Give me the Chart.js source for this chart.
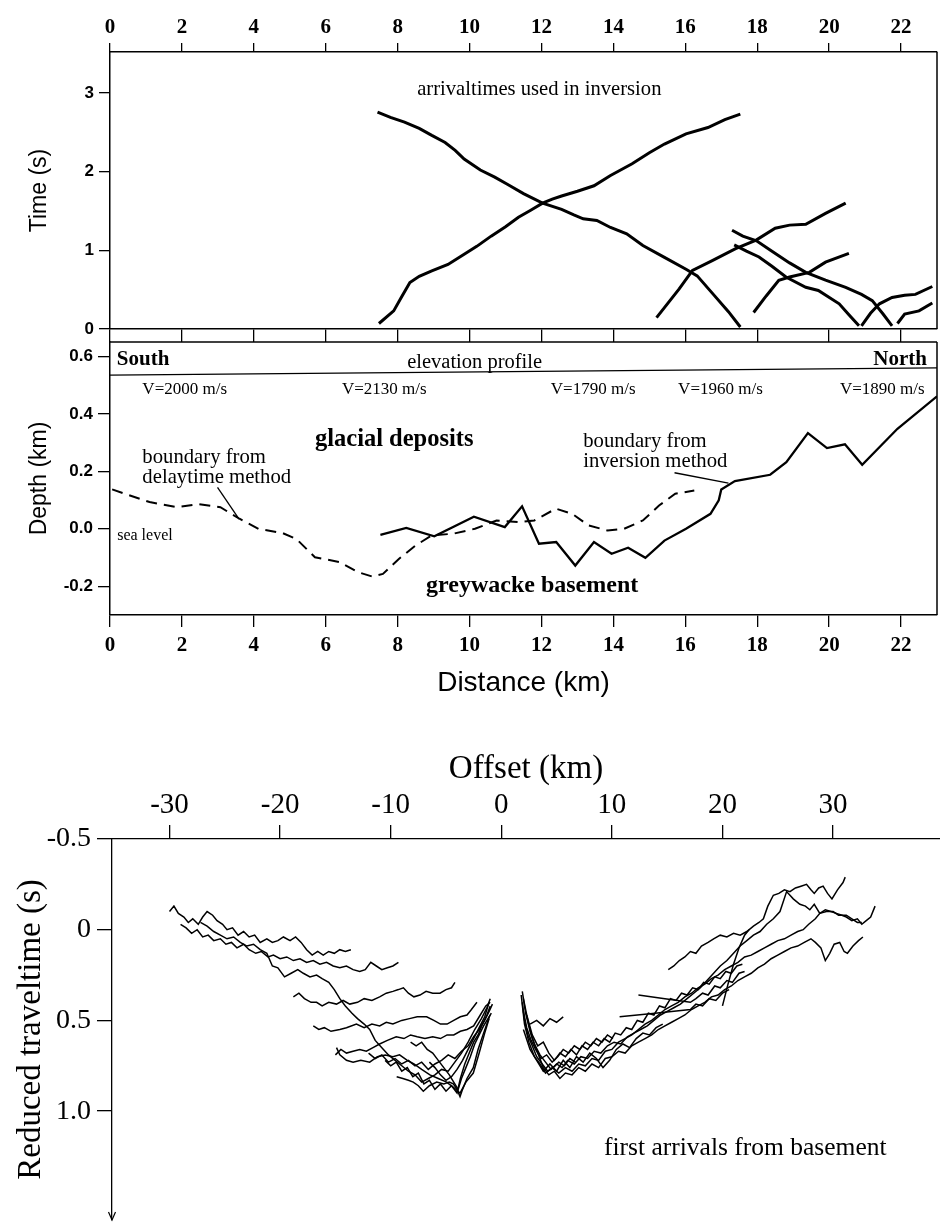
<!DOCTYPE html>
<html><head><meta charset="utf-8">
<script src="https://cdn.jsdelivr.net/npm/chart.js@4.4.1/dist/chart.umd.min.js"></script>
<style>
body{margin:0;background:#fff;width:940px;height:1226px;position:relative;overflow:hidden}
canvas{position:absolute;left:0}
</style></head><body>
<canvas id="cv1" width="940" height="342" style="top:0"></canvas>
<canvas id="cv2" width="940" height="360" style="top:340px"></canvas>
<canvas id="cv3" width="940" height="526" style="top:700px"></canvas>
<script>
// ---------- DATA ----------
const distTicks = [0,2,4,6,8,10,12,14,16,18,20,22];
const timeTicks = [0,1,2,3];
const depthTicks = [-0.2,0,0.2,0.4,0.6];
const offsetTicks = [-30,-20,-10,0,10,20,30];
const redTimeTicks = [-0.5,0,0.5,1.0];
const redTimeLabels = ['-0.5','0','0.5','1.0'];

// top panel: arrival times (distance km, time s)
const arrivalA = [[7.44,2.756],[7.8,2.69],[8.19,2.63],[8.6,2.55],[8.95,2.46],[9.32,2.37],[9.6,2.27],[9.85,2.16],[10.3,2.02],[10.7,1.93],[11.05,1.84],[11.5,1.72],[12.03,1.60],[12.56,1.52],[12.9,1.45],[13.16,1.40],[13.54,1.38],[13.92,1.29],[14.37,1.21],[14.82,1.06],[15.42,0.91],[16.02,0.76],[16.33,0.675],[16.78,0.44],[17.2,0.22],[17.53,0.025]];
const arrivalB = [[7.48,0.07],[7.89,0.23],[8.1,0.40],[8.34,0.59],[8.6,0.67],[8.95,0.74],[9.4,0.82],[9.85,0.95],[10.2,1.05],[10.6,1.18],[11.0,1.30],[11.36,1.42],[11.7,1.51],[12.03,1.60],[12.3,1.65],[12.56,1.69],[13.0,1.75],[13.46,1.82],[13.92,1.95],[14.52,2.10],[15.0,2.24],[15.42,2.35],[16.02,2.48],[16.63,2.56],[17.1,2.66],[17.53,2.73]];
const arrivalC = [[15.2,0.144],[15.83,0.51],[16.2,0.745],[16.75,0.87],[17.4,1.02],[17.97,1.13],[18.5,1.28],[18.9,1.32],[19.35,1.33],[19.9,1.47],[20.46,1.6]];
const arrivalD = [[17.3,1.255],[17.6,1.18],[17.98,1.12],[18.4,0.99],[18.9,0.84],[19.35,0.72],[19.9,0.62],[20.46,0.53],[20.9,0.44],[21.2,0.36],[21.5,0.19],[21.75,0.04]];
const arrivalE = [[17.36,1.07],[17.7,0.99],[18.05,0.915],[18.4,0.8],[18.8,0.66],[19.35,0.53],[19.7,0.49],[20.28,0.32],[20.55,0.18],[20.83,0.04]];
const arrivalF = [[17.9,0.21],[18.25,0.42],[18.6,0.62],[18.9,0.66],[19.45,0.72],[19.9,0.85],[20.55,0.96]];
const arrivalG = [[20.9,0.04],[21.15,0.2],[21.4,0.32],[21.75,0.40],[22.1,0.43],[22.4,0.44],[22.87,0.54]];
const arrivalH = [[21.9,0.07],[22.1,0.19],[22.5,0.23],[22.87,0.33]];

// middle panel: boundaries (distance km, depth km)
const delaytimeBoundary = [[0.06,0.137],[1.1,0.093],[1.87,0.075],[2.47,0.086],[3.07,0.075],[3.6,0.035],[4.13,0.0],[4.8,-0.015],[5.18,-0.035],[5.7,-0.099],[6.39,-0.116],[6.9,-0.151],[7.29,-0.166],[7.59,-0.157],[8.04,-0.104],[8.5,-0.058],[8.95,-0.023],[9.55,-0.017],[10.15,0.0],[10.75,0.029],[11.36,0.023],[11.8,0.029],[12.4,0.07],[12.86,0.052],[13.3,0.012],[13.84,-0.006],[14.3,0.0],[14.82,0.029],[15.27,0.081],[15.72,0.122],[16.25,0.133]];
const inversionBoundary = [[7.52,-0.021],[8.24,0.003],[9.02,-0.026],[10.12,0.042],[10.98,0.006],[11.46,0.078],[11.93,-0.052],[12.41,-0.046],[12.94,-0.128],[13.46,-0.046],[13.95,-0.087],[14.41,-0.066],[14.89,-0.101],[15.42,-0.041],[16.02,0.0],[16.7,0.052],[16.93,0.099],[17.0,0.137],[17.38,0.166],[18.36,0.188],[18.81,0.232],[19.41,0.333],[19.94,0.281],[20.44,0.294],[20.92,0.223],[21.9,0.348],[23.0,0.461]];
const elevationProfile = [[0,0.535],[23,0.56]];

// bottom panel: first arrivals (offset km, reduced traveltime s)
const leftTrace1 = [[-30.0,-0.10],[-29.6,-0.13],[-29.2,-0.09],[-28.7,-0.07],[-28.3,-0.04],[-27.9,-0.06],[-27.4,-0.03],[-27.0,-0.07],[-26.6,-0.10],[-26.1,-0.08],[-25.7,-0.05],[-25.2,-0.03],[-24.8,0.00],[-24.3,-0.01],[-23.8,0.03],[-23.3,0.01],[-22.8,0.04],[-22.3,0.03],[-21.8,0.07],[-21.2,0.05],[-20.7,0.07],[-20.2,0.06],[-19.7,0.04],[-19.1,0.06],[-18.6,0.04],[-18.1,0.07],[-17.6,0.11],[-17.1,0.14],[-16.6,0.12],[-16.1,0.14],[-15.6,0.12],[-15.1,0.13],[-14.6,0.11],[-14.1,0.12],[-13.6,0.11]];
const leftTrace2 = [[-29.0,-0.03],[-28.5,-0.01],[-28.0,0.02],[-27.5,0.00],[-27.0,0.04],[-26.5,0.03],[-26.0,0.06],[-25.4,0.05],[-24.9,0.08],[-24.4,0.07],[-23.9,0.10],[-23.3,0.08],[-22.8,0.11],[-22.2,0.13],[-21.7,0.12],[-21.1,0.15],[-20.6,0.14],[-20.0,0.16],[-19.4,0.15],[-18.8,0.17],[-18.2,0.16],[-17.6,0.18],[-17.0,0.17],[-16.4,0.19],[-15.8,0.18],[-15.2,0.20],[-14.6,0.21],[-14.0,0.20],[-13.4,0.22],[-12.8,0.23],[-12.3,0.22],[-11.8,0.18],[-11.3,0.20],[-10.8,0.22],[-10.3,0.21],[-9.8,0.20],[-9.3,0.18]];
const leftTrace3 = [[-27.2,-0.04],[-26.6,-0.02],[-26.0,0.01],[-25.4,0.03],[-24.8,0.05],[-24.2,0.04],[-23.6,0.07],[-23.0,0.09],[-22.4,0.08],[-21.8,0.11],[-21.2,0.13],[-20.7,0.20],[-20.2,0.21],[-19.6,0.26],[-19.0,0.24],[-18.4,0.22],[-17.9,0.24],[-17.3,0.26],[-16.7,0.25],[-16.2,0.27],[-15.6,0.29],[-15.1,0.33],[-14.6,0.38],[-14.1,0.42],[-13.5,0.46],[-13.0,0.49],[-12.4,0.52],[-11.9,0.55],[-11.4,0.61],[-10.8,0.65],[-10.2,0.69],[-9.6,0.72],[-9.0,0.75],[-8.4,0.78],[-7.8,0.80],[-7.2,0.84],[-6.6,0.82],[-6.0,0.80],[-5.4,0.77],[-4.8,0.78],[-4.2,0.73],[-3.6,0.68],[-3.0,0.62],[-2.4,0.55],[-1.8,0.49],[-1.3,0.43],[-1.0,0.38]];
const leftTrace4 = [[-18.8,0.37],[-18.3,0.35],[-17.8,0.38],[-17.2,0.40],[-16.7,0.40],[-16.2,0.42],[-15.6,0.40],[-14.9,0.41],[-14.3,0.39],[-13.7,0.41],[-13.0,0.40],[-12.4,0.38],[-11.7,0.39],[-11.0,0.37],[-10.4,0.35],[-9.8,0.34],[-9.3,0.33],[-8.85,0.32],[-8.4,0.35],[-7.9,0.37],[-7.35,0.36],[-6.8,0.34],[-6.2,0.35],[-5.54,0.35],[-5.0,0.33],[-4.5,0.32],[-4.19,0.29]];
const leftTrace5 = [[-17.0,0.53],[-16.5,0.55],[-16.0,0.54],[-15.4,0.56],[-14.6,0.55],[-14.0,0.54],[-13.1,0.52],[-12.4,0.54],[-11.7,0.52],[-11.0,0.53],[-10.4,0.51],[-9.8,0.52],[-9.0,0.50],[-8.3,0.49],[-7.6,0.48],[-6.75,0.48],[-6.1,0.50],[-5.5,0.52],[-4.9,0.52],[-4.3,0.50],[-3.7,0.48],[-3.1,0.47],[-2.7,0.44],[-2.2,0.40]];
const leftTrace6 = [[-15.0,0.69],[-14.5,0.66],[-14.0,0.68],[-13.4,0.67],[-12.8,0.66],[-12.2,0.67],[-11.6,0.65],[-11.0,0.63],[-10.3,0.61],[-9.5,0.59],[-8.8,0.60],[-8.2,0.58],[-7.6,0.59],[-6.9,0.60],[-6.2,0.59],[-5.5,0.60],[-4.9,0.58],[-4.3,0.58],[-3.7,0.56],[-3.1,0.55],[-2.5,0.53],[-1.9,0.47],[-1.4,0.42],[-1.0,0.40]];
const leftTrace7 = [[-14.9,0.65],[-14.6,0.69],[-14.0,0.72],[-13.4,0.73],[-12.7,0.72],[-11.9,0.73],[-11.2,0.70],[-10.5,0.69],[-9.8,0.70],[-9.2,0.69],[-8.5,0.72],[-7.9,0.74],[-7.2,0.77],[-6.45,0.80],[-5.7,0.82],[-4.94,0.84],[-4.3,0.87],[-3.73,0.90],[-3.2,0.84],[-2.53,0.79],[-2.0,0.68],[-1.5,0.57],[-1.1,0.49]];
const leftTrace8 = [[-9.46,0.81],[-8.9,0.82],[-8.4,0.83],[-7.96,0.84],[-7.5,0.86],[-7.05,0.89],[-6.5,0.86],[-5.84,0.84],[-5.2,0.85],[-4.7,0.84],[-4.34,0.85],[-4.0,0.88],[-3.73,0.92],[-3.5,0.88],[-3.1,0.82],[-2.53,0.76],[-2.1,0.66],[-1.6,0.57],[-1.02,0.47]];
const leftTrace9 = [[-10.5,0.72],[-10.0,0.75],[-9.5,0.73],[-9.0,0.78],[-8.5,0.76],[-8.0,0.81],[-7.5,0.79],[-7.0,0.85],[-6.5,0.83],[-6.0,0.88],[-5.5,0.85],[-5.0,0.89],[-4.5,0.86],[-4.0,0.90],[-3.7,0.82],[-3.3,0.74],[-2.9,0.68],[-2.5,0.62],[-2.1,0.58],[-1.7,0.52],[-1.3,0.47],[-1.0,0.42]];
const leftTrace10 = [[-12.0,0.68],[-11.4,0.71],[-10.8,0.69],[-10.2,0.73],[-9.6,0.71],[-9.0,0.74],[-8.4,0.72],[-7.8,0.75],[-7.2,0.73],[-6.6,0.77],[-6.0,0.74],[-5.4,0.72],[-4.8,0.69],[-4.2,0.71],[-3.6,0.67],[-3.0,0.64],[-2.5,0.59],[-2.0,0.55],[-1.5,0.50],[-1.1,0.45],[-0.8,0.41]];
const leftTrace11 = [[-8.2,0.62],[-7.7,0.64],[-7.2,0.62],[-6.7,0.66],[-6.2,0.68],[-5.7,0.72],[-5.2,0.76],[-4.7,0.80],[-4.3,0.84],[-3.9,0.88],[-3.6,0.82],[-3.2,0.76],[-2.8,0.70],[-2.4,0.63],[-2.0,0.58],[-1.6,0.53],[-1.2,0.49],[-0.9,0.46]];
const leftTrace12 = [[-6.5,0.73],[-6.0,0.76],[-5.5,0.80],[-5.0,0.83],[-4.5,0.81],[-4.0,0.77],[-3.5,0.72],[-3.0,0.66],[-2.5,0.60],[-2.0,0.54],[-1.5,0.48],[-1.1,0.40]];

const rightTrace1 = [[15.1,0.22],[15.6,0.20],[16.1,0.17],[16.6,0.15],[17.1,0.12],[17.6,0.13],[18.1,0.09],[18.7,0.07],[19.2,0.05],[19.8,0.03],[20.4,0.04],[21.0,0.02],[21.6,0.03],[22.2,0.01],[22.8,-0.02],[23.3,-0.04],[23.7,-0.06],[24.1,-0.13],[24.6,-0.19],[25.1,-0.20],[25.6,-0.22],[26.1,-0.21],[26.6,-0.23],[27.1,-0.24],[27.6,-0.25],[28.0,-0.22],[28.3,-0.20],[28.7,-0.23],[29.1,-0.24],[29.5,-0.20],[29.9,-0.17],[30.4,-0.22],[30.9,-0.26],[31.1,-0.29]];
const rightTrace2 = [[1.9,0.34],[2.2,0.46],[2.6,0.56],[3.0,0.63],[3.5,0.69],[4.0,0.73],[4.5,0.77],[5.0,0.74],[5.5,0.76],[6.0,0.72],[6.6,0.74],[7.2,0.70],[7.8,0.71],[8.4,0.67],[9.0,0.68],[9.6,0.64],[10.2,0.62],[10.8,0.63],[11.4,0.59],[12.0,0.57],[12.6,0.55],[13.2,0.53],[13.8,0.50],[14.4,0.47],[15.0,0.45],[15.6,0.43],[16.2,0.41],[16.8,0.38],[17.4,0.35],[18.0,0.32],[18.6,0.28],[19.2,0.24],[19.8,0.20],[20.4,0.17],[21.0,0.13],[21.6,0.09],[22.2,0.06],[22.8,0.03],[23.4,0.01],[24.0,-0.03],[24.6,-0.06],[25.2,-0.10],[25.8,-0.21],[26.4,-0.17],[27.0,-0.14],[27.5,-0.13],[27.9,-0.11],[28.3,-0.14],[28.8,-0.09],[29.3,-0.11],[29.8,-0.10],[30.3,-0.09],[30.8,-0.08],[31.2,-0.07],[31.7,-0.05],[32.2,-0.06],[32.6,-0.03],[33.0,-0.05],[33.4,-0.07],[33.8,-0.13]];
const rightTrace3 = [[2.0,0.38],[2.4,0.50],[2.8,0.60],[3.3,0.68],[3.8,0.76],[4.3,0.80],[4.8,0.78],[5.3,0.82],[5.8,0.79],[6.4,0.80],[7.0,0.76],[7.6,0.78],[8.2,0.74],[8.8,0.76],[9.4,0.71],[10.0,0.70],[10.6,0.67],[11.2,0.68],[11.8,0.64],[12.4,0.62],[13.0,0.60],[13.6,0.58],[14.2,0.55],[14.8,0.53],[15.4,0.51],[16.0,0.49],[16.6,0.47],[17.2,0.44],[17.8,0.42],[18.4,0.40],[19.0,0.37],[19.6,0.36],[20.2,0.33],[20.8,0.31],[21.4,0.28],[22.0,0.26],[22.6,0.24],[23.2,0.21],[23.8,0.19],[24.4,0.16],[25.0,0.14],[25.6,0.12],[26.2,0.10],[26.8,0.09],[27.4,0.07],[28.0,0.05],[28.4,0.07],[28.9,0.10],[29.3,0.17],[29.7,0.13],[30.1,0.08],[30.6,0.07],[31.0,0.12],[31.3,0.13],[31.8,0.09],[32.3,0.06],[32.7,0.04]];
const rightTrace4 = [[1.8,0.36],[2.1,0.52],[2.5,0.62],[3.0,0.70],[3.5,0.74],[4.0,0.79],[4.6,0.76],[5.2,0.79],[5.8,0.76],[6.4,0.78],[7.0,0.74],[7.6,0.75],[8.2,0.71],[8.8,0.72],[9.4,0.67],[10.0,0.66],[10.6,0.62],[11.2,0.60],[11.8,0.58],[12.4,0.55],[13.0,0.52],[13.6,0.50],[14.2,0.47],[14.8,0.44],[15.4,0.42],[16.0,0.40],[16.6,0.37],[17.2,0.35],[17.8,0.32],[18.4,0.30],[19.0,0.27],[19.6,0.25],[20.2,0.22],[20.8,0.20],[21.4,0.18],[22.0,0.15],[22.6,0.14],[23.2,0.12],[23.8,0.10],[24.4,0.08],[25.0,0.06],[25.6,0.05],[26.2,0.03],[26.8,0.01],[27.3,0.0],[27.8,-0.03],[28.4,-0.06],[28.8,-0.09],[29.4,-0.10],[30.0,-0.10],[30.5,-0.08],[31.2,-0.08],[31.7,-0.06],[32.2,-0.04],[32.6,-0.04]];
const rightTrace5 = [[2.3,0.47],[2.8,0.58],[3.3,0.64],[3.8,0.62],[4.3,0.68],[4.8,0.72],[5.3,0.68],[5.8,0.70],[6.3,0.66],[6.8,0.69],[7.3,0.64],[7.8,0.66],[8.3,0.62],[8.8,0.64],[9.3,0.60],[9.8,0.62],[10.3,0.57],[10.8,0.58],[11.3,0.54],[11.8,0.55],[12.3,0.50],[12.8,0.51],[13.3,0.46],[13.8,0.47],[14.3,0.42],[14.8,0.43],[15.3,0.38],[15.8,0.39],[16.3,0.35],[16.8,0.36],[17.3,0.32],[17.8,0.33],[18.3,0.29],[18.8,0.30],[19.3,0.26],[19.8,0.27],[20.3,0.23],[20.8,0.24],[21.3,0.20],[21.8,0.19]];
const rightTrace6 = [[12.4,0.36],[14.8,0.38],[17.1,0.40],[17.6,0.38],[18.2,0.35],[18.7,0.36],[19.3,0.31],[19.8,0.32],[20.4,0.28],[20.9,0.29],[21.5,0.24],[22.0,0.23]];
const rightTrace7 = [[10.7,0.48],[13.9,0.46],[17.1,0.44],[17.6,0.41],[18.2,0.42],[18.8,0.38],[19.4,0.39],[20.0,0.35],[20.6,0.33]];
const rightTrace8 = [[20.0,0.42],[20.5,0.30],[21.0,0.19],[21.5,0.10],[22.0,0.03],[22.4,0.00]];
const rightTrace9 = [[2.6,0.52],[3.2,0.50],[3.8,0.53],[4.4,0.49],[5.0,0.51],[5.6,0.48]];
const rightTrace10 = [[2.0,0.55],[2.6,0.66],[3.2,0.72],[3.8,0.78],[4.4,0.74],[5.0,0.78],[5.6,0.72],[6.2,0.76],[6.8,0.70],[7.4,0.73],[8.0,0.68],[8.6,0.71],[9.2,0.76],[9.8,0.72],[10.4,0.66],[11.0,0.63],[11.6,0.65],[12.2,0.60],[12.8,0.57],[13.4,0.58],[14.0,0.54],[14.6,0.52]];
const rightTrace11 = [[1.9,0.40],[2.1,0.50],[2.4,0.58],[2.8,0.64],[3.2,0.70],[3.7,0.74],[4.2,0.78],[4.7,0.76],[5.2,0.73],[5.7,0.75],[6.2,0.71],[6.7,0.73]];
const rightTrace12 = [[2.0,0.45],[2.3,0.54],[2.7,0.61],[3.1,0.66],[3.6,0.71],[4.1,0.69],[4.6,0.73],[5.1,0.70],[5.6,0.66],[6.1,0.68],[6.6,0.64],[7.1,0.66],[7.6,0.62],[8.1,0.64],[8.6,0.60],[9.1,0.62],[9.6,0.58],[10.1,0.60]];

// ---------- HELPERS ----------
const SERIF = '"Liberation Serif", "Times New Roman", serif';
const SANS = '"Liberation Sans", Arial, sans-serif';
const pts = a => a.map(p => ({x: p[0], y: p[1]}));
const setTicks = arr => (s => { s.ticks = arr.map(v => ({value: v})); });
const fixW = w => (s => { s.width = w; s.paddingTop = 0; s.paddingBottom = 0; });
const fixH = h => (s => { s.height = h; s.paddingLeft = 0; s.paddingRight = 0; });

const annot = {
  id: 'annot',
  afterDatasetsDraw(chart, args, opts) {
    const ctx = chart.ctx, xs = chart.scales.x, ys = chart.scales.y, ca = chart.chartArea;
    ctx.save();
    ctx.fillStyle = '#000'; ctx.strokeStyle = '#000';
    (opts.lines || []).forEach(l => {
      ctx.lineWidth = l.w || 1.3;
      ctx.beginPath();
      ctx.moveTo(xs.getPixelForValue(l.p[0][0]), ys.getPixelForValue(l.p[0][1]));
      ctx.lineTo(xs.getPixelForValue(l.p[1][0]), ys.getPixelForValue(l.p[1][1]));
      ctx.stroke();
    });
    (opts.texts || []).forEach(t => {
      ctx.font = t.font; ctx.textAlign = t.align || 'left'; ctx.textBaseline = 'middle';
      ctx.fillText(t.t, xs.getPixelForValue(t.x), ys.getPixelForValue(t.y));
    });
    ctx.lineWidth = 1.5;
    if (opts.frameRight) { ctx.beginPath(); ctx.moveTo(ca.right, ca.top); ctx.lineTo(ca.right, ca.bottom); ctx.stroke(); }
    if (opts.frameTop) { ctx.beginPath(); ctx.moveTo(ca.left, ca.top); ctx.lineTo(ca.right, ca.top); ctx.stroke(); }
    if (opts.arrow) {
      ctx.lineWidth = 1.2;
      ctx.beginPath(); ctx.moveTo(ca.left - 3.5, ca.bottom - 8); ctx.lineTo(ca.left, ca.bottom); ctx.lineTo(ca.left + 3.5, ca.bottom - 8); ctx.stroke();
    }
    ctx.restore();
  }
};
Chart.register(annot);
Chart.defaults.animation = false;
Chart.defaults.color = '#000';

const grid = (tl) => ({drawOnChartArea: false, drawTicks: true, tickLength: tl, color: '#000', lineWidth: 1.3});
const border = {display: true, color: '#000', width: 1.5};
const lineDs = (a, w, dash) => ({data: pts(a), showLine: true, borderColor: '#000', borderWidth: w, pointRadius: 0, borderDash: dash || [], fill: false, tension: 0});

// ---------- CHART 1: arrival times ----------
new Chart(document.getElementById('cv1'), {
  type: 'scatter',
  data: {datasets: [arrivalA, arrivalB, arrivalC, arrivalD, arrivalE, arrivalF, arrivalG, arrivalH].map(a => lineDs(a, 3))},
  options: {
    responsive: false, events: [],
    layout: {padding: {left: 0, right: 3, top: 0, bottom: 0}},
    plugins: {legend: {display: false}, tooltip: {enabled: false},
      annot: {frameRight: true, texts: [{t: 'arrivaltimes used in inversion', x: 11.94, y: 3.04, font: '20.6px ' + SERIF, align: 'center'}]}},
    scales: {
      x: {type: 'linear', position: 'top', min: 0, max: 23, afterBuildTicks: setTicks(distTicks), afterFit: fixH(52),
          ticks: {font: {family: SERIF, weight: 'bold', size: 21}, color: '#000', padding: 3, maxRotation: 0, autoSkip: false},
          grid: grid(9), border: border},
      x2: {type: 'linear', position: 'bottom', min: 0, max: 23, afterBuildTicks: setTicks(distTicks), afterFit: fixH(13),
          ticks: {display: false}, grid: grid(13), border: border},
      y: {type: 'linear', position: 'left', min: 0, max: 3.52, afterBuildTicks: setTicks(timeTicks), afterFit: fixW(110),
          ticks: {font: {family: SANS, weight: 'bold', size: 17}, color: '#000', padding: 5, callback: v => String(v)},
          grid: grid(11), border: border,
          title: {display: true, text: 'Time (s)', font: {family: SANS, size: 23}, color: '#000', padding: {top: 26, bottom: 0}}}
    }
  }
});

// ---------- CHART 2: depth section ----------
new Chart(document.getElementById('cv2'), {
  type: 'scatter',
  data: {datasets: [lineDs(elevationProfile, 1.3), lineDs(delaytimeBoundary, 2, [11, 7]), lineDs(inversionBoundary, 2.3)]},
  options: {
    responsive: false, events: [],
    layout: {padding: {left: 0, right: 3, top: 2, bottom: 0}},
    plugins: {legend: {display: false}, tooltip: {enabled: false},
      annot: {frameRight: true, frameTop: true,
        lines: [{p: [[2.99, 0.144], [3.59, 0.034]]}, {p: [[15.7, 0.195], [17.2, 0.159]]}],
        texts: [
          {t: 'South', x: 0.19, y: 0.59, font: 'bold 21px ' + SERIF},
          {t: 'North', x: 22.72, y: 0.59, font: 'bold 21px ' + SERIF, align: 'right'},
          {t: 'elevation profile', x: 10.14, y: 0.58, font: '20.5px ' + SERIF, align: 'center'},
          {t: 'V=2000 m/s', x: 0.9, y: 0.483, font: '17px ' + SERIF},
          {t: 'V=2130 m/s', x: 6.45, y: 0.483, font: '17px ' + SERIF},
          {t: 'V=1790 m/s', x: 12.26, y: 0.483, font: '17px ' + SERIF},
          {t: 'V=1960 m/s', x: 15.8, y: 0.483, font: '17px ' + SERIF},
          {t: 'V=1890 m/s', x: 20.3, y: 0.483, font: '17px ' + SERIF},
          {t: 'glacial deposits', x: 5.7, y: 0.31, font: 'bold 24.5px ' + SERIF},
          {t: 'boundary from', x: 0.9, y: 0.248, font: '20.7px ' + SERIF},
          {t: 'delaytime method', x: 0.9, y: 0.177, font: '20.7px ' + SERIF},
          {t: 'boundary from', x: 13.16, y: 0.303, font: '20.7px ' + SERIF},
          {t: 'inversion method', x: 13.16, y: 0.233, font: '20.7px ' + SERIF},
          {t: 'sea level', x: 0.2, y: -0.024, font: '16px ' + SERIF},
          {t: 'greywacke basement', x: 8.79, y: -0.198, font: 'bold 24px ' + SERIF}
        ]}},
    scales: {
      x: {type: 'linear', position: 'bottom', min: 0, max: 23, afterBuildTicks: setTicks(distTicks), afterFit: fixH(85),
          ticks: {font: {family: SERIF, weight: 'bold', size: 21}, color: '#000', padding: 6, maxRotation: 0, autoSkip: false},
          grid: grid(12), border: border,
          title: {display: true, text: 'Distance (km)', font: {family: SANS, size: 28}, color: '#000', padding: {top: 0, bottom: 0}}},
      y: {type: 'linear', position: 'left', min: -0.3, max: 0.65, afterBuildTicks: setTicks(depthTicks), afterFit: fixW(110),
          ticks: {font: {family: SANS, weight: 'bold', size: 17}, color: '#000', padding: 5, callback: v => v.toFixed(1)},
          grid: grid(12), border: border,
          title: {display: true, text: 'Depth (km)', font: {family: SANS, size: 23}, color: '#000', padding: {top: 26, bottom: 0}}}
    }
  }
});

// ---------- CHART 3: reduced traveltimes ----------
const leftTraces = [leftTrace1, leftTrace2, leftTrace3, leftTrace4, leftTrace5, leftTrace6, leftTrace7, leftTrace8, leftTrace9, leftTrace10, leftTrace11, leftTrace12];
const rightTraces = [rightTrace1, rightTrace2, rightTrace3, rightTrace4, rightTrace5, rightTrace6, rightTrace7, rightTrace8, rightTrace9, rightTrace10, rightTrace11, rightTrace12];
new Chart(document.getElementById('cv3'), {
  type: 'scatter',
  data: {datasets: leftTraces.concat(rightTraces).map(a => lineDs(a, 1.5))},
  options: {
    responsive: false, events: [],
    layout: {padding: {left: 0, right: 0, top: 0, bottom: 6}},
    plugins: {legend: {display: false}, tooltip: {enabled: false},
      annot: {arrow: true, texts: [{t: 'first arrivals from basement', x: 9.29, y: 1.205, font: '25.5px ' + SERIF}]}},
    scales: {
      x: {type: 'linear', position: 'top', min: -35.2, max: 39.67, afterBuildTicks: setTicks(offsetTicks), afterFit: fixH(139),
          ticks: {font: {family: SERIF, size: 29}, color: '#000', padding: 2, maxRotation: 0, autoSkip: false, callback: v => String(v)},
          grid: grid(14), border: {display: true, color: '#000', width: 1.3},
          title: {display: true, text: 'Offset (km)', font: {family: SERIF, size: 33}, color: '#000', padding: {top: 50, bottom: 0}}},
      y: {type: 'linear', position: 'left', reverse: true, min: -0.5, max: 1.6, afterBuildTicks: setTicks(redTimeTicks), afterFit: fixW(112),
          ticks: {font: {family: SERIF, size: 28}, color: '#000', padding: 6, callback: (v, i) => redTimeLabels[i]},
          grid: grid(15), border: {display: true, color: '#000', width: 1.3},
          title: {display: true, text: 'Reduced traveltime (s)', font: {family: SERIF, size: 33}, color: '#000', padding: {top: 12, bottom: 0}}}
    }
  }
});
</script>
</body></html>
